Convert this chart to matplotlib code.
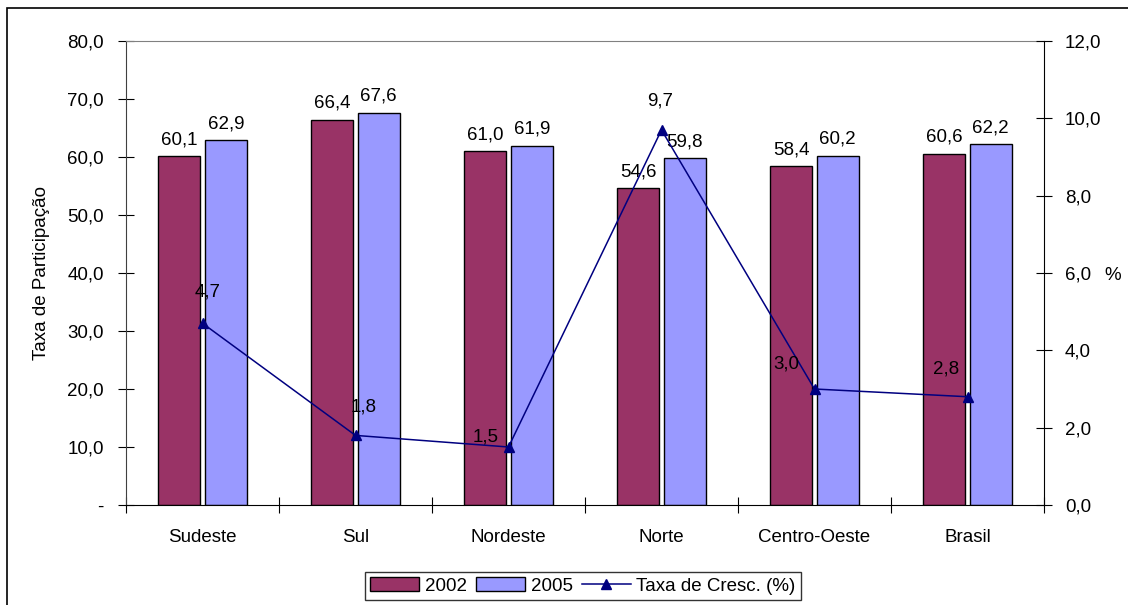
import matplotlib
matplotlib.use("Agg")
import matplotlib.pyplot as plt
from matplotlib.patches import Rectangle
from matplotlib.ticker import FuncFormatter, FixedLocator
import numpy as np

plt.rcParams['font.family'] = ['Liberation Sans', 'DejaVu Sans']
plt.rcParams['font.size'] = 13.5

regioes = ['Sudeste', 'Sul', 'Nordeste', 'Norte', 'Centro-Oeste', 'Brasil']
taxa_2002 = [60.1, 66.4, 61.0, 54.6, 58.4, 60.6]
taxa_2005 = [62.9, 67.6, 61.9, 59.8, 60.2, 62.2]
cresc = [4.7, 1.8, 1.5, 9.7, 3.0, 2.8]

# offsets (pixels) of the growth labels, as placed in the original
lbl_off = [(5, 31), (8, 28), (-23, 10), (-1, 29), (-28, 25), (-21, 28)]

def virg(v, pos=None):
    if v == 0:
        return '-'
    return ('%.1f' % v).replace('.', ',')

fig = plt.figure(figsize=(11.28, 6.05), dpi=100)
fig.patches.append(Rectangle((7/1128, -0.1), 1.2, 1 - 8/605 + 0.1, transform=fig.transFigure,
                             fill=False, edgecolor='black', linewidth=1.2))

ax = fig.add_axes([126/1128, 1 - 505/605, 918/1128, 464/605])
x = np.arange(len(regioes))
w = 0.275
b1 = ax.bar(x - 0.152, taxa_2002, w, color='#993366', edgecolor='black', linewidth=1, label='2002')
b2 = ax.bar(x + 0.152, taxa_2005, w, color='#9999FF', edgecolor='black', linewidth=1, label='2005')
for bars, vals in ((b1, taxa_2002), (b2, taxa_2005)):
    for r, v in zip(bars, vals):
        ax.annotate(virg(v), (r.get_x() + r.get_width()/2, v), xytext=(0, 8),
                    textcoords='offset pixels', ha='center', va='bottom')

ax.set_xlim(-0.5, len(regioes) - 0.5)
ax.set_ylim(0, 80)
ax.set_yticks(np.arange(0, 81, 10))
ax.yaxis.set_major_formatter(FuncFormatter(virg))
ax.xaxis.set_major_locator(FixedLocator(np.arange(-0.5, len(regioes), 1)))
ax.xaxis.set_major_formatter(FuncFormatter(lambda v, p: ''))
ax.xaxis.set_minor_locator(FixedLocator(x))
ax.set_xticklabels(regioes, minor=True)
ax.tick_params(axis='x', which='minor', length=0, pad=17)
ax.tick_params(axis='x', which='major', direction='inout', length=12)
ax.tick_params(axis='y', direction='inout', length=12, pad=10)
ax.set_ylabel('Taxa de Participação', labelpad=12)
ax.spines['top'].set_color('#808080')
ax.spines['left'].set_color('#404040')
ax.spines['right'].set_visible(False)

ax2 = ax.twinx()
ax2.set_ylim(0, 12)
ax2.set_yticks(np.arange(0, 13, 2))
ax2.yaxis.set_major_formatter(FuncFormatter(lambda v, p: ('%.1f' % v).replace('.', ',')))
ax2.tick_params(axis='y', direction='inout', length=12, pad=9)
ax2.spines['top'].set_visible(False)
ax2.spines['left'].set_visible(False)
ax2.spines['bottom'].set_visible(False)
ln, = ax2.plot(x, cresc, color='#000080', linewidth=1.1, marker='^', markersize=7,
               label='Taxa de Cresc. (%)')
for xi, v, (dx, dy) in zip(x, cresc, lbl_off):
    ax2.annotate(virg(v), (xi, v), xytext=(dx, dy), textcoords='offset pixels',
                 ha='center', va='center')
fig.text(1113/1128, 1 - 275/605, '%', ha='center', va='center')

fig.legend(handles=[b1, b2, ln], loc='center', bbox_to_anchor=(583/1128, 1 - 586/605),
           ncol=3, frameon=True, fancybox=False, edgecolor='black', handlelength=2.6,
           handletextpad=0.3, columnspacing=0.5, borderpad=0.3)

fig.savefig('out.png', dpi=100)
